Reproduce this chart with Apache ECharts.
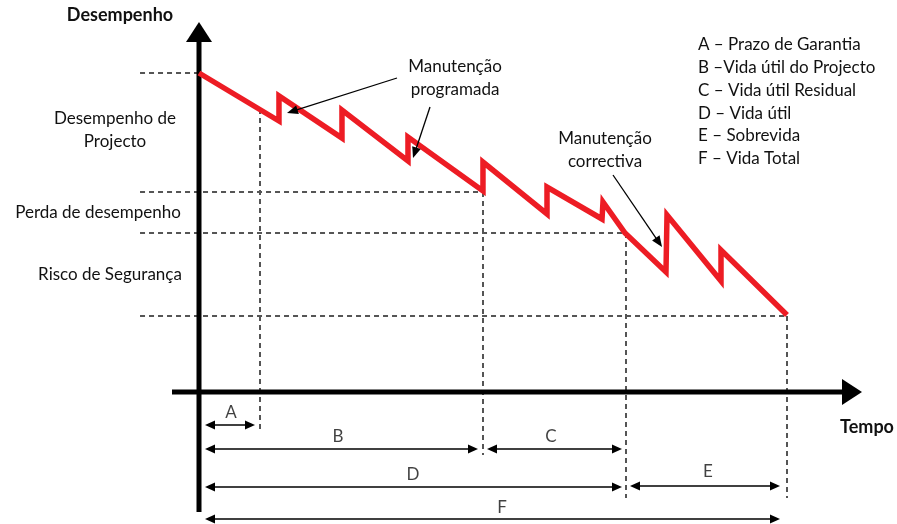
<!DOCTYPE html>
<html><head><meta charset="utf-8">
<script src="https://cdn.jsdelivr.net/npm/echarts@6/dist/echarts.min.js"></script>
<style>html,body{margin:0;padding:0;background:#fff}#c{width:897px;height:524px}</style>
</head><body><div id="c"></div>
<script>
// ---- data (time units on x, performance units on y) ----
const curveTime = [0, 13.33, 13.33, 23.83, 23.83, 34.83, 34.83, 47.33, 47.33, 58, 58, 67.17, 67.33, 71, 77.83, 78, 87, 87, 98];
const curvePerf = [63.8, 54.2, 59.2, 50.8, 56.4, 46.2, 51, 40.2, 46, 35.6, 41, 34.6, 38, 31.8, 24, 35.4, 22.2, 28.4, 15.4];

const levelPerf = [63.8, 40, 31.8, 15.2];          // horizontal reference levels
const levelStart = [-9.83, -9.83, -9.83, -9.83];
const levelEnd = [0, 47.33, 71.17, 98];

const mileTime = [10.17, 47.33, 71.17, 98];       // vertical milestones
const mileTop = [56.6, 40, 31.8, 15.2];
const mileBottom = [-7.6, -12.6, -21.2, -21.2];

const periodLetters = ['A', 'B', 'C', 'D', 'E', 'F'];
const periodStart = [1, 1, 48, 1, 71.83, 1];
const periodEnd = [9.33, 46.5, 70.5, 70.5, 96.83, 96.83];
const periodLevel = [-6.6, -11.4, -11.4, -19, -18.8, -25.4];
const letterX = [5.33, 23.17, 58.67, 35.67, 84.83, 50.5];
const letterY = [-4.2, -9, -9, -16.6, -16, -23.2];

const legendLines = ['A – Prazo de Garantia', 'B –Vida útil do Projecto', 'C – Vida útil Residual', 'D – Vida útil', 'E – Sobrevida', 'F – Vida Total'];
const zoneLabels = ['Desempenho de\nProjecto', 'Perda de desempenho', 'Risco de Segurança'];

const noteFrom = [[33, 62.8], [38.5, 57], [69, 43.4]];
const noteTo = [[14.67, 55.8], [35.67, 46.8], [77.17, 29]];
const noteTexts = ['Manutenção\nprogramada', 'Manutenção\ncorrectiva'];

const axisX = [[-4.5, 0], [110.5, 0]];
const axisY = [[0, -24], [0, 74]];

// ---- chart ----
const FONT = 'Lato';
const TXT = '#111';

function arrowRenderer(o) {
  return function (params, api) {
    const p1 = api.coord([api.value(0), api.value(1)]);
    const p2 = api.coord([api.value(2), api.value(3)]);
    const both = api.value(4) === 1;
    const dx = p2[0] - p1[0], dy = p2[1] - p1[1];
    const L = Math.hypot(dx, dy), ux = dx / L, uy = dy / L;
    const head = (tip, ax, ay) => {
      const bx = tip[0] - ax * o.len, by = tip[1] - ay * o.len;
      const nx = -ay * o.wid / 2, ny = ax * o.wid / 2;
      return { type: 'polygon', shape: { points: [tip, [bx + nx, by + ny], [bx - nx, by - ny]] }, style: { fill: o.color } };
    };
    const k = o.len * 0.7;
    const a = both ? [p1[0] + ux * k, p1[1] + uy * k] : p1;
    const b = [p2[0] - ux * k, p2[1] - uy * k];
    const ch = [{ type: 'line', shape: { x1: a[0], y1: a[1], x2: b[0], y2: b[1] }, style: { stroke: o.color, lineWidth: o.width } }];
    ch.push(head(p2, ux, uy));
    if (both) ch.push(head(p1, -ux, -uy));
    return { type: 'group', children: ch };
  };
}

const W = 897, H = 524;
const chart = echarts.init(document.getElementById('c'), null, { renderer: 'canvas', width: W, height: H });

const txt = (x, y, text, extra) => Object.assign({
  type: 'text', x: x, y: y, silent: true,
  style: Object.assign({ text: text, fontFamily: FONT, fontSize: 17, fill: TXT, align: 'center', verticalAlign: 'middle', lineHeight: 23 }, extra || {})
});

chart.setOption({
  animation: false,
  backgroundColor: '#fff',
  grid: { left: 0, right: 0, top: 0, bottom: 0 },
  xAxis: { type: 'value', min: -199 / 6, max: (W - 199) / 6, show: false },
  yAxis: { type: 'value', min: (392 - H) / 5, max: 392 / 5, show: false },
  series: [
    { // dashed reference levels + milestones
      type: 'lines', coordinateSystem: 'cartesian2d', silent: true, z: 1,
      lineStyle: { color: '#555', width: 2, type: [5, 4], opacity: 1 },
      data: levelPerf.map((v, i) => ({ coords: [[levelStart[i], v], [levelEnd[i], v]] }))
        .concat(mileTime.map((t, i) => ({ coords: [[t, mileTop[i]], [t, mileBottom[i]]] })))
    },
    { // axes
      type: 'custom', coordinateSystem: 'cartesian2d', silent: true, z: 3,
      renderItem: arrowRenderer({ len: 20, wid: 26, width: 5, color: '#000' }),
      data: [axisX, axisY].map(s => [s[0][0], s[0][1], s[1][0], s[1][1], 0])
    },
    { // performance curve
      type: 'line', silent: true, z: 4, symbol: 'none',
      lineStyle: { color: '#ed1c24', width: 5.5, join: 'miter' },
      data: curveTime.map((t, i) => [t, curvePerf[i]])
    },
    { // period arrows
      type: 'custom', coordinateSystem: 'cartesian2d', silent: true, z: 3,
      renderItem: arrowRenderer({ len: 10, wid: 9, width: 1.5, color: '#000' }),
      data: periodLetters.map((l, i) => [periodStart[i], periodLevel[i], periodEnd[i], periodLevel[i], 1])
    },
    { // annotation arrows
      type: 'custom', coordinateSystem: 'cartesian2d', silent: true, z: 5,
      renderItem: arrowRenderer({ len: 11, wid: 9, width: 1.3, color: '#000' }),
      data: noteFrom.map((f, i) => [f[0], f[1], noteTo[i][0], noteTo[i][1], 0])
    },
    { // period letters
      type: 'scatter', silent: true, symbolSize: 0, z: 6,
      label: { show: true, position: 'inside', formatter: '{b}', color: TXT, fontFamily: FONT, fontSize: 17 },
      data: periodLetters.map((l, i) => ({ name: l, value: [letterX[i], letterY[i]] }))
    }
  ],
  graphic: [
    txt(120, 15, 'Desempenho', { fontWeight: 'bold', fontSize: 18 }),
    txt(867, 427, 'Tempo', { fontWeight: 'bold', fontSize: 18 }),
    txt(115, 130, zoneLabels[0]),
    txt(98, 213, zoneLabels[1]),
    txt(110, 275, zoneLabels[2]),
    txt(455, 78, noteTexts[0]),
    txt(605, 150, noteTexts[1])
  ].concat(legendLines.map((s, i) => txt(698, 45 + i * 22.7, s, { align: 'left' })))
});
</script>
</body></html>
